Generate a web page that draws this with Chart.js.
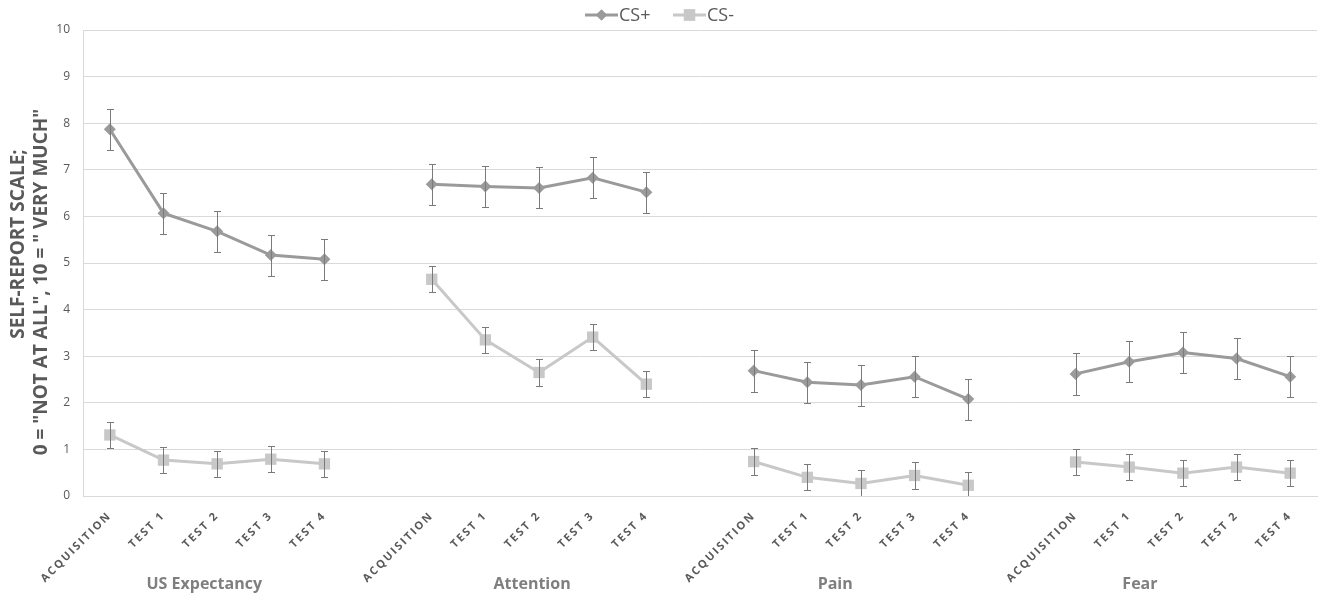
<!DOCTYPE html>
<html>
<head>
<meta charset="utf-8">
<script src="https://cdn.jsdelivr.net/npm/chart.js@4"></script>
<style>
  html, body { margin: 0; background: #fff; }
</style>
</head>
<body>
<canvas id="chart" width="1325" height="597"></canvas>
<script>
// categories (a blank slot separates each measure)
const groups = ['US Expectancy', 'Attention', 'Pain', 'Fear'];
const tickLabels = [
  'ACQUISITION', 'TEST 1', 'TEST 2', 'TEST 3', 'TEST 4', '',
  'ACQUISITION', 'TEST 1', 'TEST 2', 'TEST 3', 'TEST 4', '',
  'ACQUISITION', 'TEST 1', 'TEST 2', 'TEST 3', 'TEST 4', '',
  'ACQUISITION', 'TEST 1', 'TEST 2', 'TEST 2', 'TEST 4'
];
const yTicks = [0, 1, 2, 3, 4, 5, 6, 7, 8, 9, 10];

// series means
const csPlus = [
  7.87, 6.07, 5.68, 5.17, 5.08, null,
  6.69, 6.64, 6.61, 6.83, 6.52, null,
  2.69, 2.44, 2.38, 2.56, 2.08, null,
  2.62, 2.88, 3.08, 2.95, 2.56
];
const csMinus = [
  1.31, 0.77, 0.69, 0.79, 0.69, null,
  4.65, 3.35, 2.65, 3.41, 2.40, null,
  0.74, 0.40, 0.27, 0.44, 0.23, null,
  0.73, 0.62, 0.49, 0.62, 0.49
];
// standard errors
const csPlusErr = [
  0.44, 0.44, 0.44, 0.44, 0.44, null,
  0.44, 0.44, 0.44, 0.44, 0.44, null,
  0.45, 0.44, 0.44, 0.44, 0.44, null,
  0.45, 0.44, 0.45, 0.44, 0.44
];
const csMinusErr = [
  0.28, 0.28, 0.28, 0.28, 0.28, null,
  0.28, 0.28, 0.28, 0.28, 0.28, null,
  0.28, 0.28, 0.28, 0.28, 0.28, null,
  0.28, 0.28, 0.28, 0.28, 0.28
];

// layout: where each group title sits, in category units
const groupLabelPos = [1.76, 7.87, 13.52, 19.2];

const plusColor = '#9a9a9a';
const minusColor = '#c8c8c8';
const textColor = '#595959';

const errorBars = {
  id: 'errorBars',
  afterDatasetsDraw(chart) {
    const ctx = chart.ctx;
    const y = chart.scales.y;
    ctx.save();
    Chart.helpers.clipArea(ctx, chart.chartArea);
    ctx.strokeStyle = '#7a7a7a';
    ctx.lineWidth = 1;
    chart.data.datasets.forEach((ds, i) => {
      const meta = chart.getDatasetMeta(i);
      meta.data.forEach((pt, j) => {
        const v = ds.data[j];
        const e = ds.errors[j];
        if (v == null || e == null) return;
        const x = Math.round(pt.x) + 0.5;
        const top = Math.round(y.getPixelForValue(v + e)) + 0.5;
        const bot = Math.round(y.getPixelForValue(v - e)) + 0.5;
        ctx.beginPath();
        ctx.moveTo(x, top); ctx.lineTo(x, bot);
        ctx.moveTo(x - 3.5, top); ctx.lineTo(x + 3.5, top);
        ctx.moveTo(x - 3.5, bot); ctx.lineTo(x + 3.5, bot);
        ctx.stroke();
      });
    });
    Chart.helpers.unclipArea(ctx);
    ctx.restore();
  }
};

// wide tracking on the category labels only
const spacing = {
  id: 'spacing',
  beforeLayout(chart) { chart.ctx.letterSpacing = '2px'; },
  beforeDraw(chart) { chart.ctx.letterSpacing = '2px'; },
  beforeDatasetsDraw(chart) { chart.ctx.letterSpacing = '0px'; }
};

const decorations = {
  id: 'decorations',
  afterDraw(chart) {
    const ctx = chart.ctx;
    const x = chart.scales.x;
    ctx.save();
    ctx.letterSpacing = '0px';

    // group titles under the rotated ticks
    ctx.fillStyle = '#7f7f7f';
    ctx.font = 'bold 16px "Open Sans"';
    ctx.textAlign = 'center';
    ctx.textBaseline = 'middle';
    groups.forEach((g, i) => {
      ctx.fillText(g, x.getPixelForValue(groupLabelPos[i]), 584);
    });

    // y axis title, two lines
    ctx.fillStyle = textColor;
    ctx.font = 'bold 19px "Open Sans"';
    ctx.save();
    ctx.translate(19, 244);
    ctx.rotate(-Math.PI / 2);
    ctx.fillText('SELF-REPORT SCALE;', 0, 0);
    ctx.restore();
    ctx.save();
    ctx.translate(42, 282);
    ctx.rotate(-Math.PI / 2);
    ctx.fillText('0 = "NOT AT ALL", 10 = " VERY MUCH"', 0, 0);
    ctx.restore();

    // legend: line with marker
    const items = [
      { text: 'CS+', color: plusColor, style: 'rectRot', r: 5.5, x0: 585 },
      { text: 'CS-', color: minusColor, style: 'rect', r: 8, x0: 673 }
    ];
    const ly = 15;
    ctx.font = '18px "Open Sans"';
    ctx.textAlign = 'left';
    items.forEach(it => {
      ctx.strokeStyle = it.color;
      ctx.lineWidth = 3;
      ctx.beginPath();
      ctx.moveTo(it.x0, ly); ctx.lineTo(it.x0 + 33, ly);
      ctx.stroke();
      ctx.fillStyle = it.color;
      Chart.helpers.drawPoint(ctx, { pointStyle: it.style, radius: it.r, borderWidth: 0 }, it.x0 + 16.5, ly);
      ctx.fill();
      ctx.fillStyle = textColor;
      ctx.fillText(it.text, it.x0 + 34, ly + 1);
    });
    ctx.restore();
  }
};

new Chart(document.getElementById('chart'), {
  type: 'line',
  data: {
    labels: tickLabels,
    datasets: [
      {
        label: 'CS+',
        data: csPlus,
        errors: csPlusErr,
        borderColor: plusColor,
        backgroundColor: plusColor,
        borderWidth: 3,
        pointStyle: 'rectRot',
        pointRadius: 6,
        pointBorderWidth: 0,
        spanGaps: false
      },
      {
        label: 'CS-',
        data: csMinus,
        errors: csMinusErr,
        borderColor: minusColor,
        backgroundColor: minusColor,
        borderWidth: 3,
        pointStyle: 'rect',
        pointRadius: 8,
        pointBorderWidth: 0,
        spanGaps: false
      }
    ]
  },
  options: {
    responsive: false,
    animation: false,
    layout: { padding: { top: 30, left: 0, right: 0, bottom: 0 } },
    plugins: {
      legend: { display: false },
      tooltip: { enabled: false }
    },
    scales: {
      x: {
        offset: true,
        grid: { display: false, drawTicks: false },
        border: { color: '#d9d9d9', width: 1 },
        ticks: {
          autoSkip: false,
          minRotation: 45,
          maxRotation: 45,
          padding: 13,
          color: textColor,
          font: { family: 'Open Sans', size: 11, weight: 'bold' }
        },
        afterFit(scale) { scale.height = 101; }
      },
      y: {
        min: 0,
        max: 10,
        afterBuildTicks(scale) { scale.ticks = yTicks.map(v => ({ value: v })); },
        grid: { color: '#d9d9d9', drawTicks: false },
        border: { color: '#d9d9d9', width: 1 },
        ticks: {
          z: 1,
          padding: 13,
          color: textColor,
          font: { family: 'Open Sans', size: 12 }
        },
        afterFit(scale) { scale.width = 83; }
      }
    }
  },
  plugins: [spacing, errorBars, decorations]
});
</script>
</body>
</html>
